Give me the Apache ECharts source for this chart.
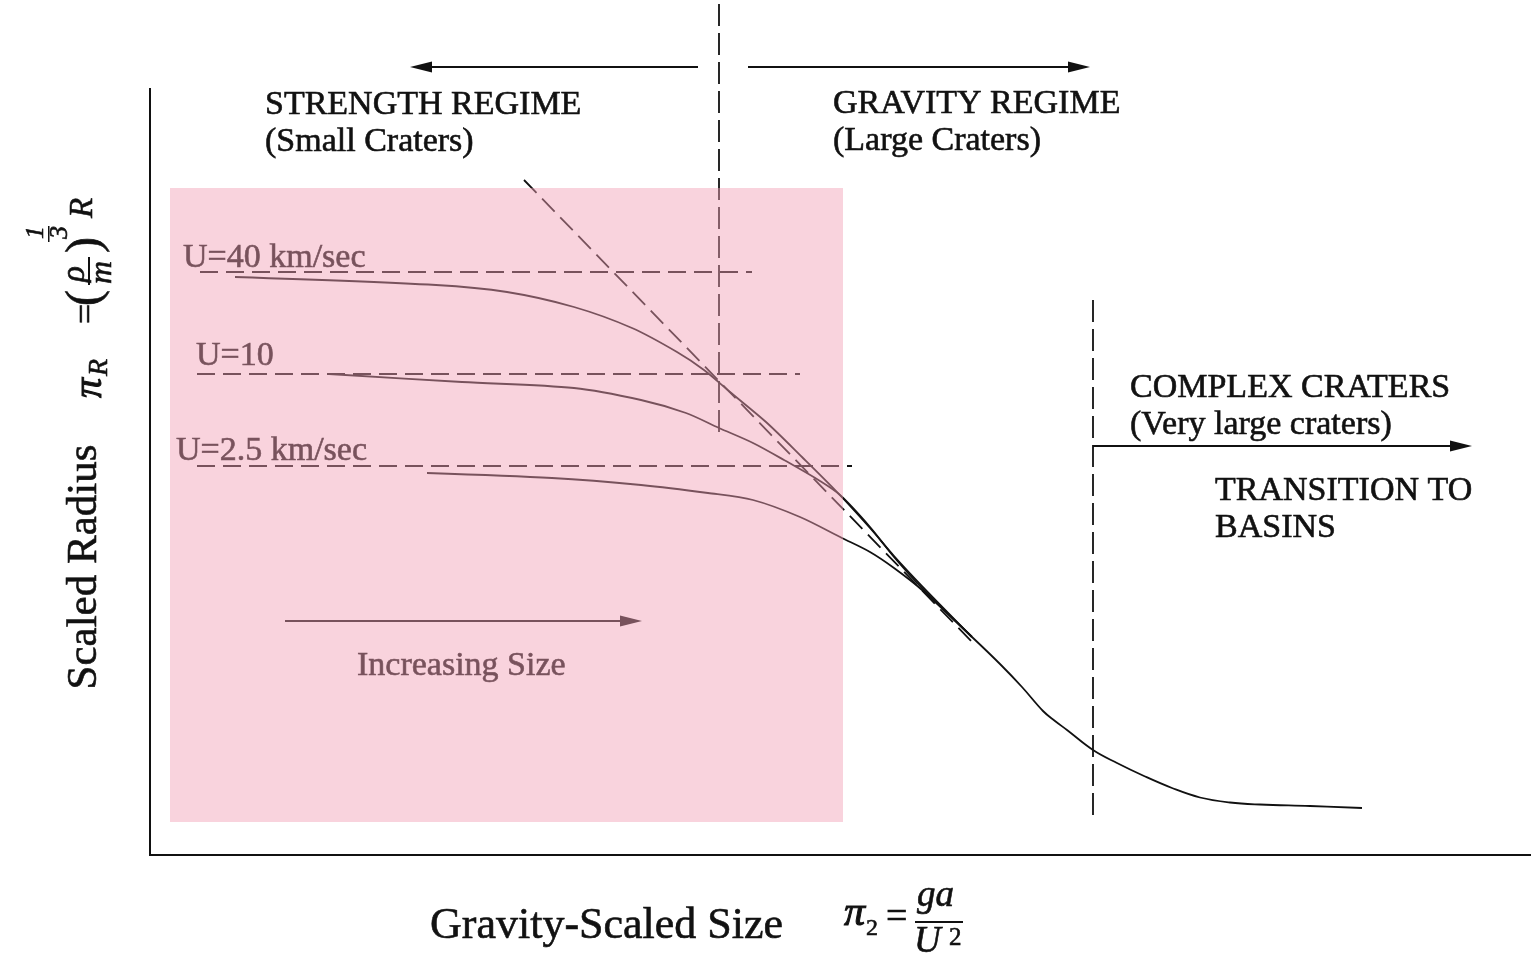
<!DOCTYPE html>
<html>
<head>
<meta charset="utf-8">
<script src="https://cdn.jsdelivr.net/npm/echarts@6/dist/echarts.min.js"></script>
<style>
html,body{margin:0;padding:0;background:#fff;}
#chart{width:1531px;height:960px;}
</style>
</head>
<body>
<div id="chart"></div>
<script>
// ---- data (arbitrary log-scaled units) ----
const pinkBoxX = [0.20, 6.93];
const pinkBoxY = [0.33, 6.67];

const curveU40 = [[0.85,5.78],[2.86,5.70],[3.57,5.63],[4.24,5.48],[4.82,5.27],[5.27,5.03],[5.54,4.85],[5.80,4.63],[6.16,4.33],[6.52,3.98],[6.87,3.63],[7.20,3.27],[7.44,2.99],[7.72,2.69],[8.22,2.18]];
const curveU10 = [[1.79,4.81],[3.12,4.73],[4.24,4.67],[4.91,4.55],[5.36,4.42],[5.69,4.27],[6.03,4.12],[6.34,3.95],[6.70,3.74],[6.90,3.60],[7.20,3.28],[7.44,2.98],[7.72,2.67],[8.22,2.18]];
const curveU25 = [[2.77,3.82],[4.02,3.77],[4.91,3.70],[5.58,3.62],[6.03,3.55],[6.50,3.38],[6.92,3.17],[7.20,3.03],[7.44,2.87],[7.72,2.65],[8.22,2.18]];
const gravityCurve = [[8.22,2.18],[8.50,1.91],[8.72,1.68],[8.93,1.44],[9.05,1.34],[9.17,1.25],[9.43,1.05],[9.67,0.92],[9.94,0.79],[10.22,0.67],[10.50,0.575],[10.80,0.525],[11.10,0.505],[11.60,0.49],[12.12,0.47]];

const asymptoteU40 = [[0.50,5.83],[6.02,5.83]];
const asymptoteU10 = [[0.47,4.81],[6.50,4.81]];
const asymptoteU25 = [[0.47,3.89],[7.02,3.89]];
const gravityAsymptote = [[3.74,6.75],[8.25,2.10]];

const regimeBoundary = [[5.69,4.23],[5.69,8.55]];
const complexBoundary = [[9.43,5.55],[9.43,0.35]];

const arrowStrength = [[5.48,7.88],[2.71,7.88]];
const arrowGravity = [[5.98,7.88],[9.29,7.88]];
const arrowComplex = [[9.43,4.09],[13.11,4.09]];
const arrowSize = [[1.35,2.34],[4.81,2.34]];

const yAxisLine = [[0,7.67],[0,-0.02]];

const X_MAX = 13.81, Y_MAX = 8.55;

// ---- styles ----
const FONT = '"Liberation Serif","Times New Roman",serif';
const INK = '#111';
const DASH = [18, 8];

function lineSeries(data, opts) {
  opts = opts || {};
  return {
    type: 'line', data: data, symbol: 'none', showSymbol: false, silent: true,
    smooth: opts.smooth || false, z: 2,
    lineStyle: { color: INK, width: opts.width || 1.8, type: opts.dash || 'solid' }
  };
}
function arrowSeries(pts, rot) {
  return {
    type: 'line', silent: true, z: 2,
    data: [
      { value: pts[0], symbol: 'none' },
      { value: pts[1], symbol: 'triangle', symbolSize: [11, 22], symbolRotate: rot }
    ],
    showSymbol: true,
    itemStyle: { color: INK },
    lineStyle: { color: INK, width: 1.8 }
  };
}

function txt(text, x, y, size, extra) {
  extra = extra || {};
  return {
    type: 'text', x: x, y: y, z: 1, rotation: extra.rotation || 0, silent: true,
    style: {
      text: text, fill: INK, stroke: INK, lineWidth: extra.lw == null ? 0.6 : extra.lw,
      font: (extra.style || '') + ' ' + size + 'px ' + FONT,
      align: extra.align || 'left', verticalAlign: extra.va || 'middle'
    }
  };
}

const chart = echarts.init(document.getElementById('chart'));
const option = {
  animation: false,
  backgroundColor: '#fff',
  grid: { left: 150, right: 0, top: 0, bottom: 105 },
  xAxis: {
    type: 'value', min: 0, max: X_MAX,
    axisLine: { show: true, lineStyle: { color: INK, width: 2 } },
    axisTick: { show: false }, axisLabel: { show: false }, splitLine: { show: false }
  },
  yAxis: {
    type: 'value', min: 0, max: Y_MAX,
    axisLine: { show: false }, axisTick: { show: false },
    axisLabel: { show: false }, splitLine: { show: false }
  },
  series: [
    lineSeries(yAxisLine, { width: 2 }),
    lineSeries(asymptoteU40, { dash: DASH }),
    lineSeries(asymptoteU10, { dash: DASH }),
    lineSeries(asymptoteU25, { dash: DASH }),
    lineSeries(gravityAsymptote, { dash: DASH }),
    lineSeries(regimeBoundary, { dash: [22, 7] }),
    lineSeries(complexBoundary, { dash: [22, 7] }),
    lineSeries(curveU40, { smooth: 0.3 }),
    lineSeries(curveU10, { smooth: 0.3 }),
    lineSeries(curveU25, { smooth: 0.3 }),
    lineSeries(gravityCurve, { smooth: 0.4 }),
    arrowSeries(arrowStrength, 90),
    arrowSeries(arrowGravity, -90),
    arrowSeries(arrowComplex, -90),
    arrowSeries(arrowSize, -90),
    {
      type: 'custom', z: 10, silent: true,
      data: [[pinkBoxX[0], pinkBoxY[0], pinkBoxX[1], pinkBoxY[1]]],
      encode: { x: [0, 2], y: [1, 3] },
      renderItem: function (params, api) {
        const p0 = api.coord([api.value(0), api.value(1)]);
        const p1 = api.coord([api.value(2), api.value(3)]);
        return {
          type: 'rect',
          shape: { x: p0[0], y: p1[1], width: p1[0] - p0[0], height: p0[1] - p1[1] },
          style: { fill: 'rgba(243,160,180,0.46)' }
        };
      }
    }
  ],
  graphic: [
    txt('STRENGTH REGIME', 265, 105, 34),
    txt('(Small Craters)', 265, 142, 34),
    txt('GRAVITY REGIME', 833, 104, 34),
    txt('(Large Craters)', 833, 141, 34),
    txt('U=40 km/sec', 183, 258, 34),
    txt('U=10', 196, 356, 34),
    txt('U=2.5 km/sec', 176, 451, 34),
    txt('Increasing Size', 357, 666, 34),
    txt('COMPLEX CRATERS', 1130, 388, 34),
    txt('(Very large craters)', 1130, 425, 34),
    txt('TRANSITION TO', 1215, 491, 34),
    txt('BASINS', 1215, 528, 34),
    txt('Gravity-Scaled Size', 430, 926, 44),
    txt('Scaled Radius', 85, 567, 43, { rotation: Math.PI / 2, align: 'center' }),
    // x-axis formula  pi_2 = ga / U^2
    txt('\u03c0', 844, 914, 42, { style: 'italic', lw: 1 }),
    txt('2', 866, 929, 24, { lw: 0.6 }),
    txt('=', 886, 918, 38),
    txt('ga', 917, 896, 37, { style: 'italic' }),
    { type: 'rect', z: 1, silent: true, shape: { x: 915, y: 921, width: 48, height: 2 }, style: { fill: INK } },
    txt('U', 914, 942, 37, { style: 'italic' }),
    txt('2', 949, 938, 25),
    // y-axis formula  pi_R = (rho/m)^(1/3) R  (rotated)
    {
      type: 'group', x: 88, y: 398, rotation: Math.PI / 2, z: 1, silent: true,
      children: [
        txt('\u03c0', 0, 2, 40, { style: 'italic', lw: 1 }),
        txt('R', 22, 12, 28, { style: 'italic' }),
        txt('=', 74, 0, 36),
        txt('(', 92, -2, 48),
        txt('\u03c1', 116, -13, 33, { style: 'italic' }),
        { type: 'rect', z: 1, silent: true, shape: { x: 113, y: 0, width: 28, height: 2 }, style: { fill: INK } },
        txt('m', 114, 15, 32, { style: 'italic' }),
        txt(')', 145, -2, 48),
        txt('1', 159, -52, 26, { style: 'italic' }),
        { type: 'rect', z: 1, silent: true, shape: { x: 156, y: -40, width: 16, height: 1.5 }, style: { fill: INK } },
        txt('3', 159, -28, 26, { style: 'italic' }),
        txt('R', 180, -5, 33, { style: 'italic' })
      ]
    }
  ]
};
chart.setOption(option);
</script>
</body>
</html>
